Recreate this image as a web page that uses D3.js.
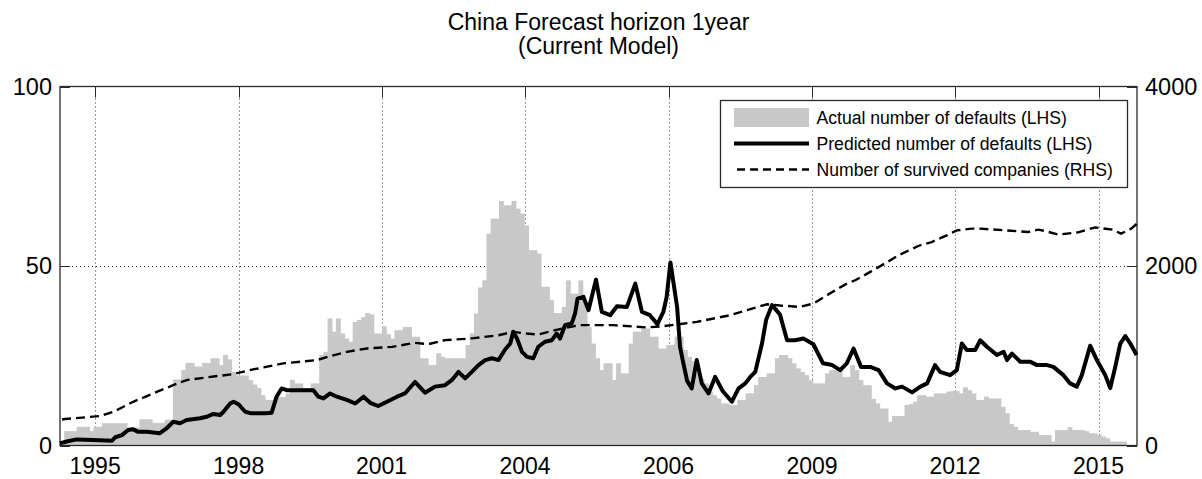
<!DOCTYPE html>
<html><head><meta charset="utf-8">
<script src="https://cdn.jsdelivr.net/npm/d3@7"></script>
<style>
html,body{margin:0;padding:0;background:#fff;}
svg{display:block;font-family:"Liberation Sans",Arial,Helvetica,sans-serif;}
</style></head>
<body>
<svg id="c" width="1202" height="479"></svg>
<script>
// ---- data ----
const startYear = 1994.80;            // first month of the series (decimal year)
const titleLines = ["China Forecast horizon 1year", "(Current Model)"];
const legendLabels = ["Actual number of defaults (LHS)", "Predicted number of defaults (LHS)", "Number of survived companies (RHS)"];
const xTickYears = [1995.5, 1998.36, 2001.21, 2004.07, 2006.93, 2009.79, 2012.64, 2015.5];
const xTickLabels = ["1995", "1998", "2001", "2004", "2006", "2009", "2012", "2015"];
const yLeftTicks = [0, 50, 100];
const yRightTicks = [0, 2000, 4000];

// actual defaults, monthly (LHS)
const actualDefaults = [
 0,4.0,4.0,4.0,5.2,5.2,5.2,4.0,5.2,5.2,
 6.2,6.2,6.2,6.2,6.2,6.2,5.0,5.0,5.0,7.3,
 7.3,7.3,6.3,6.3,6.3,7.2,7.2,18.4,18.4,21,
 23,23,22,22,23,23,24.3,24.3,22.4,25.2,
 24,20.5,19.5,19.5,19.5,18.2,17,16,14,12.7,
 12.7,12.7,13.5,13.5,14.5,18.3,17.3,17.3,16,16,
 17.3,17.3,25.2,26.1,35.4,31.7,35.4,31.2,29.8,28.9,
 34.4,35,35.8,36.9,36.5,31.2,31.2,33.2,31,29.8,
 32.1,32.1,33,33,30.3,30.3,24.3,24.3,22.4,22.4,
 25.7,24.7,24.3,24.3,24.3,24.3,24.3,28,31.2,36.8,
 44,46,59,63.2,63.2,68.1,66.9,66.9,68.1,66,
 64.6,61.3,54.4,54.4,53.5,44.2,44.2,40.5,36.9,36.9,
 38.6,46,42.3,42.3,46,40,33,28.4,24.3,21,
 22.9,22.9,18.2,22.9,20.1,20.1,28.4,31.7,31.7,32.6,
 32.6,30.3,30.3,27,27,28,28,30.3,30.3,26.6,
 24.7,23.5,20,18.5,17.3,15,14,13.1,11.7,11.7,
 11.3,11.3,12.7,12.7,14.5,14.5,16.8,19.1,19.1,20.1,
 20.1,24.3,25.2,25.2,24.3,22.9,21.5,20.5,19.6,18.2,
 17.3,17.3,17.3,20.1,21,21,21,19.1,19.1,22.4,
 21,18.2,16.8,16.8,13,11.7,10.3,10.3,6.6,8.2,
 8.2,8.2,11.3,11.5,12.2,14,14,13.6,13.6,14.5,
 14.5,14.5,15,15.2,15.2,14.5,16.2,15.4,14.5,12.7,
 12.7,13.6,13.1,13.1,13.1,10.8,9,6,5.2,4.3,
 4.3,4.3,3.8,3.8,2.9,2.9,2.9,1.1,4.3,4.3,
 4.3,5.1,4.3,4.3,4.3,4.0,3.4,3.4,2.9,2.5,
 2.0,1.1,1.1,1.1,1.1
];

// predicted defaults (LHS): month index since start, value
const predMonth = [0,1.6,4.0,7.9,12.4,13.2,14.8,16.3,17.5,18.7,20.7,22.3,23.8,25.5,27.1,28.7,30.3,33.5,35.1,36.7,38.3,39.1,40.7,41.5,42.7,44.3,45.5,49.4,50.6,51.8,53.0,54.2,57.4,60.6,61.8,63.0,64.6,66.2,68.6,70.6,72.6,74.2,76.1,78.2,80.6,82.5,84.9,87.3,89.7,92.1,93.7,95.3,96.9,98.5,100.1,101.7,103.3,104.9,106.5,107.7,108.4,109.3,110.5,111.7,113.2,114.4,116.0,117.6,118.8,119.6,120.8,122.4,123.2,123.8,125.2,126.4,128.2,129.6,131.6,133.2,135.6,137.6,139.2,141.1,142.9,144.3,145.1,146.0,146.7,147.6,148.3,149.1,150.0,151.1,152.3,153.5,155.1,156.7,158.5,160.7,162.3,163.9,165.1,166.3,167.9,168.9,170.3,172.2,173.9,175.8,177.8,180.2,182.5,184.7,186.6,188.2,189.8,191.6,193.8,195.8,197.8,199.8,201.4,203.8,205.8,207.4,209.3,210.5,212.9,214.5,215.7,216.9,218.9,220.1,221.7,224.1,225.7,226.5,227.7,229.7,232.1,233.7,236.1,237.6,240.0,241.6,243.2,244.4,246.4,248.0,250.0,251.2,252.4,253.6,254.8,256.0,257.5];
const predValue = [0.6,1.1,1.7,1.5,1.3,2.3,2.9,4.3,4.5,3.8,3.8,3.6,3.4,4.8,6.6,6.2,7.1,7.6,8.0,8.8,8.5,9.4,11.7,12.2,11.5,9.4,9.0,9.0,9.1,13.6,15.9,15.4,15.4,15.4,13.6,13.1,14.5,13.6,12.7,11.7,13.6,11.9,11.0,12.2,13.6,14.5,17.7,14.7,16.4,16.8,18.2,20.5,18.7,20.5,22.4,23.8,24.3,23.8,26.8,28.4,31.7,29.8,26.1,24.7,24.3,27.5,28.9,29.3,31.2,29.8,33.5,34.0,36.8,40.9,41.4,37.7,46.2,37.2,36.3,38.8,38.6,45.1,37.2,36.3,33.8,37.2,41.4,51.0,45.6,38.6,27.5,22.9,18.0,15.9,23.8,17.3,14.5,19.1,15.2,12.2,15.9,17.3,19.1,20.5,28.4,35.0,39.1,36.5,29.3,29.3,29.8,28.2,22.9,22.4,21.0,22.9,27.0,21.9,21.9,21.0,17.3,15.9,16.4,14.8,16.4,17.3,22.4,20.5,19.6,21.0,28.4,26.6,26.6,29.3,27.5,25.2,26.1,23.8,25.6,23.3,23.3,22.4,22.4,21.9,19.6,17.3,16.4,19.6,27.8,23.8,19.6,16.0,21.9,28.4,30.5,28.4,25.2];

// survived companies (RHS)
const survMonth = [0.5,1.2,9.6,12.8,17.5,22.3,27.1,30.3,35.1,41.5,46.2,53.4,61.4,64.6,68.6,73.4,79.4,84.9,88.1,92.1,98.5,104.9,108.4,111.2,114.4,119.2,124.0,129.2,132.4,140.4,144.3,152.3,160.3,164.3,169.1,172.2,177.0,180.2,185.4,188.2,190.2,193.8,198.6,200.5,205.7,208.5,212.1,214.5,218.1,220.1,226.1,231.6,234.0,235.6,238.8,243.5,247.6,251.7,253.8,256.2,257.6];
const survValue = [290,295,328,376,487,581,673,729,759,796,848,915,951,996,1044,1081,1099,1144,1129,1174,1193,1229,1266,1248,1237,1293,1341,1341,1341,1315,1330,1377,1452,1508,1574,1560,1544,1582,1730,1804,1841,1934,2064,2119,2231,2267,2342,2397,2416,2416,2397,2379,2405,2390,2350,2375,2430,2405,2360,2416,2471];

// ---- chart ----
const svg = d3.select("#c");
const L = 60, R = 1137, T = 86.5, B = 445.5;
const nMonths = 257.6;
const x = d3.scaleLinear().domain([startYear, startYear + nMonths/12]).range([L, R]);
const yL = d3.scaleLinear().domain([0, 100]).range([B, T]);
const yR = d3.scaleLinear().domain([0, 4000]).range([B, T]);
const yearOf = m => startYear + m/12;
const axisColor = "#2a2a2a";
const font = '"Liberation Sans",Arial,Helvetica,sans-serif';

// grid (under bars)
const grid = svg.append("g").attr("stroke", "#333").attr("stroke-width", 1).attr("stroke-dasharray", "1,3");
grid.selectAll("line.vx").data(xTickYears).join("line")
  .attr("x1", d => Math.round(x(d)) + 0.5).attr("x2", d => Math.round(x(d)) + 0.5)
  .attr("y1", T).attr("y2", B);
grid.selectAll("line.hy").data(yLeftTicks.filter(v => v > 0 && v < 100)).join("line")
  .attr("x1", L).attr("x2", R).attr("y1", d => Math.round(yL(d)) + 0.5).attr("y2", d => Math.round(yL(d)) + 0.5);

// tick marks
const tk = svg.append("g").attr("stroke", axisColor).attr("stroke-width", 1);
xTickYears.forEach(d => {
  const xx = Math.round(x(d)) + 0.5;
  tk.append("line").attr("x1", xx).attr("x2", xx).attr("y1", T).attr("y2", T + 11);
  tk.append("line").attr("x1", xx).attr("x2", xx).attr("y1", B).attr("y2", B - 11);
});
yLeftTicks.forEach(d => {
  const yy = Math.round(yL(d)) + 0.5;
  tk.append("line").attr("x1", L).attr("x2", L + 10).attr("y1", yy).attr("y2", yy);
});
yRightTicks.forEach(d => {
  const yy = Math.round(yR(d)) + 0.5;
  tk.append("line").attr("x1", R - 10).attr("x2", R).attr("y1", yy).attr("y2", yy);
});

// bars
svg.append("g").selectAll("rect").data(actualDefaults).join("rect")
  .attr("x", (d, i) => x(yearOf(i)))
  .attr("width", (d, i) => x(yearOf(i + 1)) - x(yearOf(i)) + 0.7)
  .attr("y", d => yL(d))
  .attr("height", d => B - yL(d))
  .attr("fill", "#c8c8c8");

// box
svg.append("rect").attr("x", L).attr("y", T).attr("width", R - L).attr("height", B - T)
  .attr("fill", "none").attr("stroke", axisColor).attr("stroke-width", 1.3);

// survived companies (dashed)
const survData = survMonth.map((m, i) => [yearOf(m), survValue[i]]);
svg.append("path").datum(survData)
  .attr("d", d3.line().x(d => x(d[0])).y(d => yR(d[1])))
  .attr("fill", "none").attr("stroke", "#000").attr("stroke-width", 2.4)
  .attr("stroke-dasharray", "9,5");

// predicted (thick)
const predData = predMonth.map((m, i) => [yearOf(m), predValue[i]]);
svg.append("path").datum(predData)
  .attr("d", d3.line().x(d => x(d[0])).y(d => yL(d[1])))
  .attr("fill", "none").attr("stroke", "#000").attr("stroke-width", 4)
  .attr("stroke-linejoin", "round");

// axis labels
const lab = svg.append("g").attr("font-family", font).attr("font-size", 23).attr("fill", "#000");
lab.selectAll("text.xl").data(xTickYears).join("text")
  .attr("x", d => x(d)).attr("y", 474).attr("text-anchor", "middle")
  .text((d, i) => xTickLabels[i]);
lab.selectAll("text.yl").data(yLeftTicks).join("text")
  .attr("x", 52).attr("y", d => yL(d)).attr("dy", "0.36em").attr("text-anchor", "end")
  .attr("font-size", 23.5)
  .text(d => d);
lab.selectAll("text.yr").data(yRightTicks).join("text")
  .attr("x", 1145).attr("y", d => yR(d)).attr("dy", "0.36em").attr("text-anchor", "start")
  .attr("font-size", 23.5)
  .text(d => d);

// title
svg.append("g").attr("font-family", font).attr("font-size", 23).attr("fill", "#000")
  .selectAll("text").data(titleLines).join("text")
  .attr("x", (L + R) / 2).attr("y", (d, i) => 29.5 + i * 24).attr("text-anchor", "middle")
  .text(d => d);

// legend
const lg = svg.append("g");
lg.append("rect").attr("x", 720.5).attr("y", 100.5).attr("width", 407).attr("height", 87)
  .attr("fill", "#fff").attr("stroke", axisColor).attr("stroke-width", 1.3);
const rowY = [117.5, 143.5, 169.5];
lg.append("rect").attr("x", 734).attr("y", 108).attr("width", 75).attr("height", 19).attr("fill", "#c8c8c8");
lg.append("line").attr("x1", 734).attr("x2", 809).attr("y1", rowY[1]).attr("y2", rowY[1])
  .attr("stroke", "#000").attr("stroke-width", 4);
lg.append("line").attr("x1", 737).attr("x2", 809).attr("y1", rowY[2]).attr("y2", rowY[2])
  .attr("stroke", "#000").attr("stroke-width", 2.4).attr("stroke-dasharray", "8,5");
lg.selectAll("text").data(legendLabels).join("text")
  .attr("x", 816.5).attr("y", (d, i) => rowY[i]).attr("dy", "0.35em")
  .attr("font-family", font).attr("font-size", 17.6).attr("fill", "#000")
  .text(d => d);
</script>
</body></html>
